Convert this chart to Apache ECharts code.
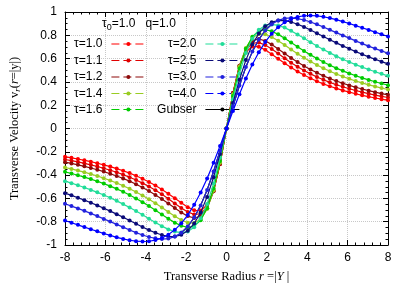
<!DOCTYPE html>
<html><head><meta charset="utf-8">
<script src="https://cdn.jsdelivr.net/npm/echarts@6/dist/echarts.min.js"></script>
<style>html,body{margin:0;padding:0;background:#fff}#c{width:411px;height:288px}</style>
</head><body><div id="c"></div>
<script>
const rValues = [-8,-7.68,-7.36,-7.04,-6.72,-6.4,-6.08,-5.76,-5.44,-5.12,-4.8,-4.48,-4.16,-3.84,-3.52,-3.2,-2.88,-2.56,-2.24,-1.92,-1.6,-1.28,-0.96,-0.64,-0.32,0,0.32,0.64,0.96,1.28,1.6,1.92,2.24,2.56,2.88,3.2,3.52,3.84,4.16,4.48,4.8,5.12,5.44,5.76,6.08,6.4,6.72,7.04,7.36,7.68,8];
const tau10 = [-0.242,-0.252,-0.262,-0.273,-0.285,-0.298,-0.312,-0.327,-0.344,-0.363,-0.383,-0.406,-0.431,-0.459,-0.489,-0.523,-0.560,-0.599,-0.638,-0.675,-0.702,-0.704,-0.657,-0.531,-0.304,0,0.304,0.531,0.657,0.704,0.702,0.675,0.638,0.599,0.560,0.523,0.489,0.459,0.431,0.406,0.383,0.363,0.344,0.327,0.312,0.298,0.285,0.273,0.262,0.252,0.242];
const tau11 = [-0.266,-0.276,-0.287,-0.299,-0.312,-0.326,-0.341,-0.358,-0.376,-0.396,-0.418,-0.442,-0.469,-0.498,-0.530,-0.565,-0.603,-0.643,-0.682,-0.716,-0.738,-0.732,-0.674,-0.537,-0.304,0,0.304,0.537,0.674,0.732,0.738,0.716,0.682,0.643,0.603,0.565,0.530,0.498,0.469,0.442,0.418,0.396,0.376,0.358,0.341,0.326,0.312,0.299,0.287,0.276,0.266];
const tau12 = [-0.289,-0.300,-0.312,-0.325,-0.339,-0.354,-0.370,-0.388,-0.408,-0.429,-0.452,-0.478,-0.506,-0.536,-0.570,-0.606,-0.644,-0.683,-0.721,-0.752,-0.768,-0.753,-0.685,-0.539,-0.302,0,0.302,0.539,0.685,0.753,0.768,0.752,0.721,0.683,0.644,0.606,0.570,0.536,0.506,0.478,0.452,0.429,0.408,0.388,0.370,0.354,0.339,0.325,0.312,0.300,0.289];
const tau14 = [-0.335,-0.347,-0.361,-0.375,-0.391,-0.408,-0.426,-0.446,-0.468,-0.491,-0.517,-0.545,-0.575,-0.607,-0.642,-0.679,-0.717,-0.753,-0.786,-0.809,-0.812,-0.779,-0.692,-0.532,-0.293,0,0.293,0.532,0.692,0.779,0.812,0.809,0.786,0.753,0.717,0.679,0.642,0.607,0.575,0.545,0.517,0.491,0.468,0.446,0.426,0.408,0.391,0.375,0.361,0.347,0.335];
const tau16 = [-0.372,-0.386,-0.401,-0.417,-0.434,-0.453,-0.473,-0.495,-0.518,-0.543,-0.571,-0.601,-0.632,-0.666,-0.701,-0.738,-0.774,-0.808,-0.835,-0.848,-0.837,-0.788,-0.685,-0.516,-0.280,0,0.280,0.516,0.685,0.788,0.837,0.848,0.835,0.808,0.774,0.738,0.701,0.666,0.632,0.601,0.571,0.543,0.518,0.495,0.473,0.453,0.434,0.417,0.401,0.386,0.372];
const tau20 = [-0.452,-0.469,-0.487,-0.506,-0.527,-0.548,-0.571,-0.595,-0.621,-0.649,-0.678,-0.709,-0.741,-0.774,-0.807,-0.838,-0.866,-0.885,-0.893,-0.884,-0.847,-0.771,-0.648,-0.473,-0.251,0,0.251,0.473,0.648,0.771,0.847,0.884,0.893,0.885,0.866,0.838,0.807,0.774,0.741,0.709,0.678,0.649,0.621,0.595,0.571,0.548,0.527,0.506,0.487,0.469,0.452];
const tau25 = [-0.555,-0.574,-0.594,-0.615,-0.637,-0.660,-0.684,-0.709,-0.735,-0.762,-0.790,-0.818,-0.846,-0.872,-0.895,-0.914,-0.926,-0.927,-0.913,-0.878,-0.815,-0.720,-0.587,-0.418,-0.218,0,0.218,0.418,0.587,0.720,0.815,0.878,0.913,0.927,0.926,0.914,0.895,0.872,0.846,0.818,0.790,0.762,0.735,0.709,0.684,0.660,0.637,0.615,0.594,0.574,0.555];
const tau30 = [-0.646,-0.666,-0.686,-0.707,-0.729,-0.752,-0.776,-0.799,-0.823,-0.847,-0.871,-0.894,-0.914,-0.931,-0.943,-0.949,-0.945,-0.928,-0.895,-0.842,-0.764,-0.660,-0.527,-0.369,-0.190,0,0.190,0.369,0.527,0.660,0.764,0.842,0.895,0.928,0.945,0.949,0.943,0.931,0.914,0.894,0.871,0.847,0.823,0.799,0.776,0.752,0.729,0.707,0.686,0.666,0.646];
const tau40 = [-0.790,-0.809,-0.827,-0.846,-0.865,-0.883,-0.901,-0.918,-0.934,-0.948,-0.959,-0.967,-0.970,-0.968,-0.958,-0.940,-0.911,-0.870,-0.814,-0.743,-0.654,-0.549,-0.429,-0.294,-0.150,0,0.150,0.294,0.429,0.549,0.654,0.743,0.814,0.870,0.911,0.940,0.958,0.968,0.970,0.967,0.959,0.948,0.934,0.918,0.901,0.883,0.865,0.846,0.827,0.809,0.790];
const gubserR = [-2.24,-1.92,-1.6,-1.28,-0.96,-0.64,-0.32,0,0.32,0.64,0.96,1.28,1.6,1.92,2.24];
const gubserV = [-0.895,-0.842,-0.764,-0.660,-0.527,-0.369,-0.190,0,0.190,0.369,0.527,0.660,0.764,0.842,0.895];
const seriesNames = ['τ=1.0','τ=1.1','τ=1.2','τ=1.4','τ=1.6','τ=2.0','τ=2.5','τ=3.0','τ=4.0'];
const seriesValues = [tau10,tau11,tau12,tau14,tau16,tau20,tau25,tau30,tau40];
const seriesColors = ['#ff0000','#e00000','#8e0a0a','#99cc22','#00cc00','#22dd99','#0a0a78','#2222dd','#0000ff'];
const xTicks = [-8,-6,-4,-2,0,2,4,6,8];
const yTicks = [-1,-0.8,-0.6,-0.4,-0.2,0,0.2,0.4,0.6,0.8,1];

const SANS = 'Liberation Sans';
const SERIF = 'Liberation Serif';
const series = seriesNames.map((n, i) => ({
  name: n, type: 'line', data: rValues.map((r, j) => [r, seriesValues[i][j]]),
  symbol: 'circle', symbolSize: 4, showSymbol: true,
  lineStyle: {color: seriesColors[i], width: 1.2},
  itemStyle: {color: seriesColors[i]}, z: 3 + i, animation: false
}));
series.push({
  name: 'Gubser', type: 'line', data: gubserR.map((r, j) => [r, gubserV[j]]),
  symbol: 'none', lineStyle: {color: '#000', width: 1.2}, itemStyle: {color: '#000'}, z: 2, animation: false
});

const rowTops = [37, 53.5, 70, 86.5, 102.5];
const legends = [];
const allNames = seriesNames.concat(['Gubser']);
allNames.forEach((nm, k) => {
  const col = k < 5 ? 0 : 1;
  const row = k % 5;
  legends.push({
    data: [nm], orient: 'horizontal', align: 'right',
    right: col === 0 ? 265 : 171, top: rowTops[row],
    itemWidth: 34, itemHeight: 5, padding: 0, selectedMode: false,
    textStyle: {fontFamily: SANS, fontSize: 12, color: '#000', padding: [0, 4, 0, 0], lineHeight: 14},
    lineStyle: {type: k === 9 ? 'solid' : [8, 4], width: 1.2}
  });
});

const axisCommon = {type: 'value', min: -8, max: 8, interval: 2};
const chart = echarts.init(document.getElementById('c'), null, {renderer: 'canvas'});
chart.setOption({
  backgroundColor: '#fff',
  animation: false,
  title: {
    text: '{t|τ}{s|0}{t|=1.0   q=1.0}', left: 102, top: 16, padding: 0,
    textStyle: {fontWeight: 'normal', rich: {
      t: {fontFamily: SANS, fontSize: 12, fontWeight: 'normal', color: '#000', lineHeight: 16},
      s: {fontFamily: SANS, fontSize: 9, fontWeight: 'normal', color: '#000', lineHeight: 16, padding: [7, 0, 0, 0]}
    }}
  },
  legend: legends,
  grid: {left: 61, right: 23, top: 12, bottom: 41, containLabel: false},
  xAxis: [{
    ...axisCommon, position: 'bottom',
    axisLine: {onZero: false, lineStyle: {color: '#000', width: 1}},
    axisTick: {inside: true, length: 5, lineStyle: {color: '#000'}},
    minorTick: {show: true, splitNumber: 5, length: 2.5, lineStyle: {color: '#000'}},
    axisLabel: {fontFamily: SANS, fontSize: 12, color: '#000', margin: 7},
    splitLine: {show: true, lineStyle: {color: '#c8c8c8', type: 'dotted', width: 1}},
    name: '{a|Transverse Radius }{i|r}{a| =|}{i|Y }{a||}', nameLocation: 'middle', nameGap: 25,
    nameTextStyle: {rich: {
      a: {fontFamily: SERIF, fontSize: 12.5, color: '#000'},
      i: {fontFamily: SERIF, fontSize: 12.5, fontStyle: 'italic', color: '#000'}
    }}
  }, {
    ...axisCommon, position: 'top',
    axisLine: {onZero: false, lineStyle: {color: '#000', width: 1}},
    axisTick: {inside: true, length: 5, lineStyle: {color: '#000'}},
    minorTick: {show: true, splitNumber: 5, length: 2.5, lineStyle: {color: '#000'}},
    axisLabel: {show: false}, splitLine: {show: false}
  }],
  yAxis: [{
    type: 'value', min: -1, max: 1, interval: 0.2, position: 'left',
    axisLine: {onZero: false, lineStyle: {color: '#000', width: 1}},
    axisTick: {inside: true, length: 5, lineStyle: {color: '#000'}},
    minorTick: {show: true, splitNumber: 4, length: 2.5, lineStyle: {color: '#000'}},
    axisLabel: {fontFamily: SANS, fontSize: 12, color: '#000', margin: 8,
      formatter: v => String(Math.round(v * 10) / 10)},
    splitLine: {show: true, lineStyle: {color: '#c8c8c8', type: 'dotted', width: 1}},
    name: '{a|Transverse Velocity v}{s|r}{a|(}{i|r}{a|=|y|)}', nameLocation: 'middle', nameGap: 43,
    nameTextStyle: {rich: {
      a: {fontFamily: SERIF, fontSize: 12.5, color: '#000'},
      i: {fontFamily: SERIF, fontSize: 12.5, fontStyle: 'italic', color: '#000'},
      s: {fontFamily: SERIF, fontSize: 9, fontStyle: 'italic', color: '#000', padding: [6, 0, 0, 0]}
    }}
  }, {
    type: 'value', min: -1, max: 1, interval: 0.2, position: 'right',
    axisLine: {onZero: false, lineStyle: {color: '#000', width: 1}},
    axisTick: {inside: true, length: 5, lineStyle: {color: '#000'}},
    minorTick: {show: true, splitNumber: 4, length: 2.5, lineStyle: {color: '#000'}},
    axisLabel: {show: false}, splitLine: {show: false}
  }],
  series: series
});
</script></body></html>
